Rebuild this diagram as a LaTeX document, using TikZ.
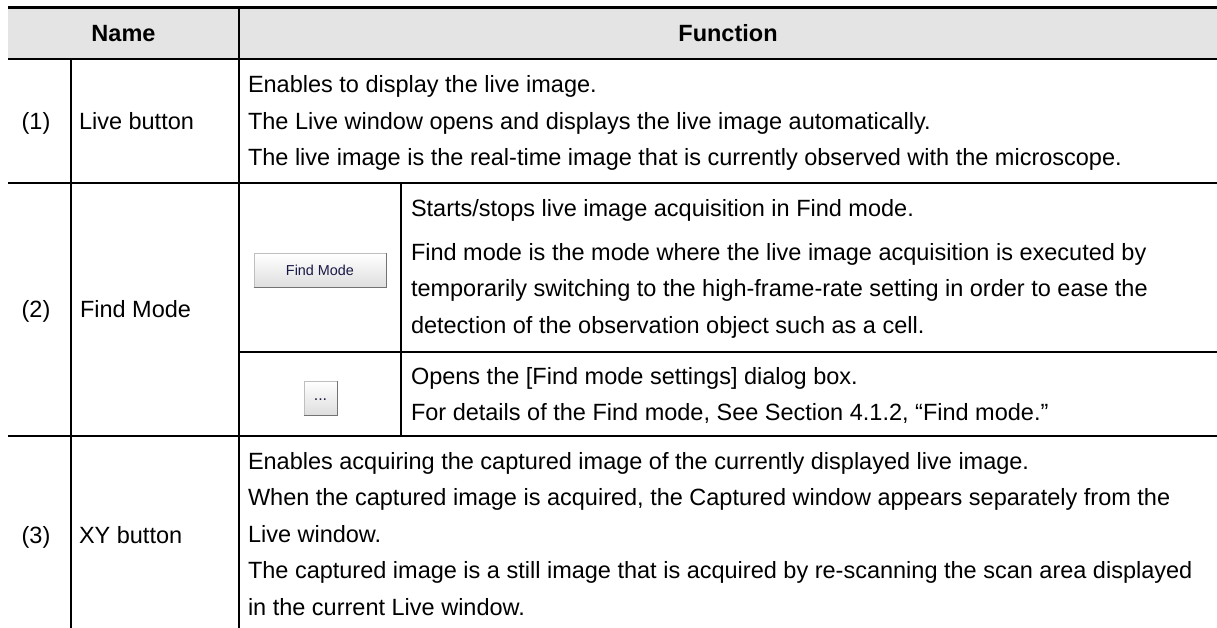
\documentclass[tikz,border=0pt]{standalone}
\usepackage{fontspec}
\setmainfont{Liberation Sans}
\definecolor{headgray}{RGB}{228,228,228}
\definecolor{btntext}{RGB}{25,25,70}

\begin{document}
\begin{tikzpicture}[x=1pt, y=-1pt, line width=2pt,
  cell/.style={anchor=north west, inner sep=0pt, align=left, font=\fontsize{23.5}{36.5}\selectfont},
  rowname/.style={anchor=base west, inner sep=0pt, font=\fontsize{23.5}{28}\selectfont},
  rownum/.style={anchor=base, inner sep=0pt, font=\fontsize{23.5}{28}\selectfont},
  head/.style={anchor=base, inner sep=0pt, font=\fontsize{23.5}{28}\selectfont\bfseries},
  btn/.style={draw=black!25, line width=1pt, top color=white, bottom color=black!13,
    inner sep=0pt, text=btntext},
  btnedge/.style={draw=black!55, line width=1pt}]
\useasboundingbox (0,0) rectangle (1217,628);

% header row
\fill[headgray] (8,8) rectangle (1217,59);
\draw[line width=3pt] (8,8) -- (1217,8);
\draw (8,59) -- (1217,59);
\node[head] (hname) at (123.5,41.7) {Name};
\node[head] (hfunc) at (728,41.7) {Function};

% table rules
\draw (8,183) -- (1217,183);
\draw (8,436) -- (1217,436);
\draw (239,352) -- (1217,352);
\draw (71,59) -- (71,628);
\draw (239,8) -- (239,628);
\draw (401,183) -- (401,436);

% (1) Live button
\node[rownum] (n1) at (36,129.5) {(1)};
\node[rowname] (live) at (78,129.5) {Live button};
\node[cell] (f1) at (247,74.6) {Enables to display the live image.\\
  The Live window opens and displays the live image automatically.\\
  The live image is the real-time image that is currently observed with the microscope.};

% (2) Find Mode
\node[rownum] (n2) at (36,317.5) {(2)};
\node[rowname] (find) at (79,317.5) {Find Mode};
\node[btn, minimum width=132pt, minimum height=33pt, font=\fontsize{14.4}{16}\selectfont]
  (btnfind) at (320,270.5) {Find Mode};
\draw[btnedge] (btnfind.south west) -- (btnfind.south east) -- (btnfind.north east);
\node[cell] (f2a) at (410,198) {Starts/stops live image acquisition in Find mode.\\[7.5pt]
  Find mode is the mode where the live image acquisition is executed by\\
  temporarily switching to the high-frame-rate setting in order to ease the\\
  detection of the observation object such as a cell.};
\node[btn, minimum width=33pt, minimum height=34pt, font=\fontsize{16}{16}\selectfont]
  (btndots) at (320.5,398) {\raisebox{-4pt}{...}};
\draw[btnedge] (btndots.south west) -- (btndots.south east) -- (btndots.north east);
\node[cell] (f2b) at (410,366.3) {Opens the [Find mode settings] dialog box.\\
  For details of the Find mode, See Section 4.1.2, “Find mode.”};

% (3) XY button
\node[rownum] (n3) at (36,543) {(3)};
\node[rowname] (xy) at (78,543) {XY button};
\node[cell] (f3) at (247,451) {Enables acquiring the captured image of the currently displayed live image.\\
  When the captured image is acquired, the Captured window appears separately from the\\
  Live window.\\
  The captured image is a still image that is acquired by re-scanning the scan area displayed\\
  in the current Live window.};
\end{tikzpicture}
\end{document}
